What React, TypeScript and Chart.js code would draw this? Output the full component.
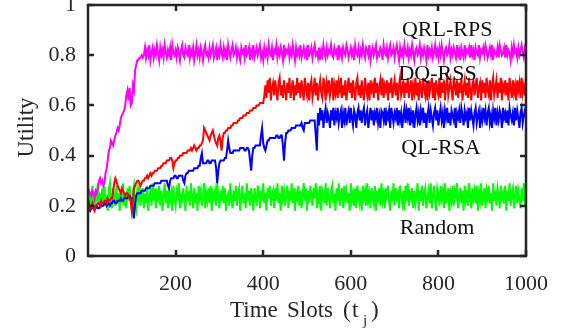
import { useEffect, useRef } from "react";
import { Chart, registerables } from "chart.js";

Chart.register(...registerables);

// time slots (category axis): every 2.5 slots from 0 to 1000
const slots: number[] = Array.from({ length: 401 }, (_, i) => i * 2.5);

const xTicks = [200, 400, 600, 800, 1000];
const yTicks = [0, 0.2, 0.4, 0.6, 0.8, 1];
const yTickLabels = ["0", "0.2", "0.4", "0.6", "0.8", "1"];

const qrlRps = [
  0.27, 0.26, 0.25, 0.24, 0.26, 0.25, 0.23, 0.26, 0.25, 0.27,
  0.30, 0.31, 0.29, 0.30, 0.28, 0.29, 0.33, 0.35, 0.38, 0.42,
  0.43, 0.46, 0.45, 0.44, 0.46, 0.48, 0.49, 0.51, 0.50, 0.52,
  0.55, 0.56, 0.57, 0.58, 0.60, 0.64, 0.66, 0.62, 0.67, 0.60,
  0.61, 0.68, 0.66, 0.74, 0.76, 0.78, 0.78, 0.79, 0.79, 0.80,
  0.79, 0.80,
  0.83, 0.79, 0.82, 0.80, 0.84, 0.78, 0.81, 0.83, 0.79, 0.82,
  0.80, 0.84, 0.81, 0.78, 0.83, 0.80, 0.82, 0.79, 0.84, 0.81,
  0.79, 0.82, 0.80, 0.83, 0.78, 0.84, 0.81, 0.80, 0.82, 0.79,
  0.83, 0.81, 0.78, 0.82, 0.84, 0.80, 0.79, 0.83, 0.81, 0.80,
  0.84, 0.79, 0.82, 0.80, 0.83, 0.78, 0.81, 0.84, 0.80, 0.82,
  0.79, 0.83, 0.81, 0.78, 0.82, 0.84, 0.80, 0.81, 0.79, 0.83,
  0.80, 0.82, 0.84, 0.79, 0.81, 0.83, 0.78, 0.82, 0.80, 0.84,
  0.81, 0.79, 0.83, 0.80, 0.82, 0.78, 0.84, 0.81, 0.79, 0.82,
  0.84, 0.80, 0.81, 0.83, 0.79, 0.82, 0.80, 0.78, 0.83, 0.81,
  0.82, 0.79, 0.84, 0.80, 0.81, 0.83, 0.78, 0.82, 0.80, 0.84,
  0.79, 0.81, 0.83, 0.80, 0.82, 0.84, 0.79, 0.81, 0.78, 0.83,
  0.80, 0.82, 0.79, 0.84, 0.81, 0.80, 0.83, 0.78, 0.82, 0.81,
  0.84, 0.79, 0.82, 0.80, 0.83, 0.81, 0.78, 0.84, 0.80, 0.82,
  0.81, 0.83, 0.79, 0.82, 0.80, 0.84, 0.81, 0.78, 0.83, 0.80,
  0.82, 0.80, 0.84, 0.79, 0.81, 0.83, 0.80, 0.82, 0.78, 0.84,
  0.80, 0.81, 0.83, 0.79, 0.82, 0.84, 0.80, 0.81, 0.79, 0.83,
  0.78, 0.82, 0.80, 0.84, 0.81, 0.79, 0.83, 0.80, 0.82, 0.81,
  0.84, 0.80, 0.79, 0.83, 0.81, 0.82, 0.78, 0.84, 0.80, 0.82,
  0.79, 0.83, 0.81, 0.80, 0.84, 0.82, 0.79, 0.81, 0.83, 0.80,
  0.82, 0.78, 0.84, 0.81, 0.80, 0.83, 0.79, 0.82, 0.80, 0.84,
  0.81, 0.79, 0.83, 0.82, 0.80, 0.84, 0.78, 0.81, 0.83, 0.80,
  0.82, 0.84, 0.79, 0.81, 0.80, 0.83, 0.82, 0.78, 0.84, 0.81,
  0.80, 0.83, 0.79, 0.82, 0.84, 0.80, 0.81, 0.83, 0.79, 0.82,
  0.84, 0.81, 0.78, 0.83, 0.80, 0.82, 0.79, 0.84, 0.81, 0.80,
  0.83, 0.79, 0.82, 0.80, 0.84, 0.81, 0.78, 0.82, 0.83, 0.80,
  0.81, 0.84, 0.79, 0.82, 0.80, 0.83, 0.81, 0.78, 0.84, 0.80,
  0.82, 0.80, 0.83, 0.79, 0.81, 0.84, 0.80, 0.82, 0.79, 0.83,
  0.80, 0.84, 0.81, 0.78, 0.82, 0.83, 0.80, 0.81, 0.84, 0.79,
  0.82, 0.80, 0.83, 0.81, 0.79, 0.84, 0.80, 0.82, 0.78, 0.83,
  0.81, 0.79, 0.84, 0.80, 0.82, 0.81, 0.83, 0.79, 0.84, 0.80,
  0.82, 0.78, 0.83, 0.81, 0.80, 0.84, 0.79, 0.82, 0.81, 0.83,
  0.80, 0.84, 0.82, 0.79, 0.81, 0.83, 0.80, 0.84, 0.78, 0.82,
  0.81, 0.80, 0.83, 0.79, 0.84, 0.82, 0.80, 0.81, 0.83, 0.79,
  0.84, 0.80, 0.82, 0.81, 0.78, 0.83, 0.80, 0.84, 0.81, 0.82,
  0.79, 0.83, 0.80, 0.82, 0.84, 0.81, 0.79, 0.83, 0.82,
];

const dqRss = [
  0.20, 0.21, 0.19, 0.20, 0.21, 0.19, 0.18, 0.20, 0.20, 0.21,
  0.21, 0.20, 0.22, 0.21, 0.21, 0.22, 0.22, 0.21, 0.23, 0.22,
  0.22, 0.23, 0.23, 0.26, 0.29, 0.31, 0.30, 0.28, 0.27, 0.26,
  0.25, 0.27, 0.26, 0.25, 0.24, 0.25, 0.25, 0.24, 0.23, 0.22,
  0.18, 0.22, 0.27, 0.28, 0.29, 0.30, 0.30, 0.29, 0.28, 0.29,
  0.30, 0.30, 0.31, 0.31, 0.32, 0.31, 0.32, 0.33, 0.32, 0.33,
  0.33, 0.34, 0.34, 0.34, 0.35, 0.35, 0.35, 0.36, 0.36, 0.37,
  0.37, 0.37, 0.38, 0.38, 0.38, 0.39, 0.39, 0.38, 0.35, 0.37,
  0.38, 0.38, 0.39, 0.39, 0.40, 0.40, 0.40, 0.41, 0.41, 0.41,
  0.41, 0.42, 0.42, 0.42, 0.43, 0.42, 0.43, 0.44, 0.43, 0.42,
  0.43, 0.43, 0.44, 0.44, 0.45, 0.46, 0.51, 0.50, 0.49, 0.48,
  0.47, 0.46, 0.48, 0.49, 0.50, 0.48, 0.46, 0.45, 0.44, 0.47,
  0.48, 0.46, 0.42, 0.47, 0.49, 0.49, 0.50, 0.50, 0.51, 0.51,
  0.51, 0.52, 0.52, 0.53, 0.53, 0.53, 0.53, 0.54, 0.54, 0.55,
  0.55, 0.55, 0.56, 0.56, 0.56, 0.57, 0.57, 0.57, 0.58, 0.58,
  0.58, 0.59, 0.59, 0.59, 0.60, 0.60, 0.60, 0.61, 0.61, 0.61,
  0.61, 0.64,
  0.68, 0.63, 0.70, 0.65, 0.71, 0.62, 0.67, 0.69, 0.64, 0.70,
  0.66, 0.62, 0.69, 0.71, 0.64, 0.68, 0.63, 0.70, 0.66, 0.62,
  0.69, 0.65, 0.71, 0.63, 0.67, 0.70, 0.62, 0.68, 0.64, 0.71,
  0.65, 0.69, 0.63, 0.70, 0.66, 0.62, 0.71, 0.67, 0.64, 0.69,
  0.62, 0.68, 0.70, 0.63, 0.66, 0.71, 0.64, 0.69, 0.62, 0.67,
  0.70, 0.65, 0.63, 0.71, 0.68, 0.62, 0.69, 0.66, 0.70, 0.64,
  0.67, 0.71, 0.62, 0.68, 0.65, 0.70, 0.63, 0.69, 0.66, 0.71,
  0.63, 0.68, 0.64, 0.70, 0.62, 0.67, 0.71, 0.65, 0.69, 0.63,
  0.70, 0.66, 0.62, 0.69, 0.71, 0.64, 0.68, 0.63, 0.70, 0.65,
  0.62, 0.71, 0.67, 0.64, 0.69, 0.62, 0.70, 0.66, 0.68, 0.63,
  0.71, 0.65, 0.69, 0.62, 0.67, 0.70, 0.64, 0.71, 0.63, 0.68,
  0.66, 0.70, 0.62, 0.69, 0.65, 0.71, 0.63, 0.67, 0.70, 0.64,
  0.69, 0.62, 0.68, 0.71, 0.64, 0.66, 0.70, 0.63, 0.69, 0.65,
  0.71, 0.63, 0.67, 0.70, 0.62, 0.68, 0.65, 0.71, 0.64, 0.69,
  0.62, 0.70, 0.66, 0.63, 0.71, 0.67, 0.64, 0.69, 0.62, 0.70,
  0.65, 0.68, 0.71, 0.63, 0.69, 0.62, 0.70, 0.66, 0.64, 0.71,
  0.63, 0.69, 0.65, 0.70, 0.62, 0.68, 0.71, 0.64, 0.67, 0.70,
  0.66, 0.62, 0.71, 0.68, 0.64, 0.70, 0.63, 0.69, 0.65, 0.71,
  0.62, 0.67, 0.70, 0.64, 0.69, 0.63, 0.71, 0.66, 0.62, 0.68,
  0.70, 0.64, 0.68, 0.71, 0.63, 0.67, 0.69, 0.62, 0.70, 0.65,
  0.69, 0.63, 0.71, 0.66, 0.64, 0.70, 0.62, 0.68, 0.71, 0.64,
  0.67, 0.70, 0.63, 0.69, 0.65, 0.71, 0.62, 0.68, 0.66, 0.70,
  0.64, 0.69, 0.62, 0.71, 0.67, 0.63, 0.70, 0.65, 0.68, 0.62,
  0.70, 0.66, 0.69, 0.63, 0.71, 0.65, 0.68, 0.64, 0.69,
];

const qlRsa = [
  0.19, 0.19, 0.18, 0.19, 0.19, 0.20, 0.19, 0.19, 0.20, 0.19,
  0.19, 0.20, 0.20, 0.20, 0.20, 0.21, 0.21, 0.20, 0.21, 0.21,
  0.20, 0.21, 0.21, 0.22, 0.22, 0.21, 0.21, 0.22, 0.22, 0.22,
  0.23, 0.22, 0.22, 0.23, 0.23, 0.23, 0.23, 0.24, 0.24, 0.23,
  0.23, 0.19, 0.15, 0.21, 0.24, 0.25, 0.25, 0.25, 0.25, 0.26,
  0.26, 0.26, 0.26, 0.27, 0.27, 0.27, 0.27, 0.28, 0.28, 0.28,
  0.28, 0.29, 0.29, 0.29, 0.29, 0.29, 0.29, 0.30, 0.30, 0.30,
  0.30, 0.30, 0.30, 0.28, 0.27, 0.30, 0.31, 0.31, 0.31, 0.32,
  0.32, 0.31, 0.31, 0.32, 0.32, 0.32, 0.32, 0.30, 0.29, 0.32,
  0.33, 0.33, 0.34, 0.34, 0.34, 0.34, 0.34, 0.35, 0.35, 0.35,
  0.35, 0.36, 0.36, 0.39, 0.41, 0.37, 0.37, 0.37, 0.37, 0.38,
  0.38, 0.37, 0.37, 0.38, 0.38, 0.38, 0.38, 0.35, 0.29, 0.34,
  0.37, 0.38, 0.38, 0.38, 0.38, 0.39, 0.39, 0.42, 0.46, 0.43,
  0.41, 0.41, 0.41, 0.42, 0.42, 0.42, 0.42, 0.42, 0.42, 0.43,
  0.43, 0.43, 0.43, 0.42, 0.42, 0.43, 0.43, 0.42, 0.38, 0.34,
  0.40, 0.43, 0.43, 0.44, 0.44, 0.44, 0.44, 0.44, 0.48, 0.51,
  0.45, 0.43, 0.42, 0.44, 0.46, 0.46, 0.47, 0.47, 0.47, 0.47,
  0.47, 0.47, 0.48, 0.48, 0.47, 0.47, 0.48, 0.48, 0.44, 0.38,
  0.45, 0.49, 0.49, 0.50, 0.50, 0.50, 0.51, 0.51, 0.51, 0.51,
  0.52, 0.52, 0.52, 0.52, 0.52, 0.53, 0.51, 0.50, 0.53, 0.53,
  0.53, 0.53, 0.53, 0.54, 0.54, 0.54, 0.54, 0.54, 0.48, 0.42,
  0.57, 0.52, 0.59, 0.54, 0.58, 0.51, 0.56, 0.59, 0.53, 0.57,
  0.55, 0.51, 0.58, 0.54, 0.59, 0.52, 0.57, 0.55, 0.59, 0.53,
  0.56, 0.58, 0.51, 0.57, 0.54, 0.59, 0.52, 0.56, 0.58, 0.53,
  0.59, 0.55, 0.52, 0.58, 0.56, 0.51, 0.57, 0.59, 0.54, 0.58,
  0.53, 0.57, 0.59, 0.52, 0.56, 0.58, 0.51, 0.55, 0.59, 0.54,
  0.58, 0.52, 0.57, 0.55, 0.59, 0.53, 0.56, 0.51, 0.58, 0.57,
  0.54, 0.59, 0.52, 0.57, 0.55, 0.58, 0.51, 0.59, 0.56, 0.53,
  0.57, 0.55, 0.59, 0.52, 0.58, 0.54, 0.57, 0.51, 0.56, 0.59,
  0.53, 0.58, 0.55, 0.59, 0.52, 0.57, 0.54, 0.58, 0.51, 0.56,
  0.59, 0.54, 0.57, 0.52, 0.58, 0.55, 0.59, 0.53, 0.57, 0.51,
  0.56, 0.59, 0.53, 0.58, 0.55, 0.52, 0.57, 0.59, 0.54, 0.58,
  0.52, 0.56, 0.59, 0.54, 0.57, 0.51, 0.58, 0.55, 0.59, 0.53,
  0.57, 0.52, 0.58, 0.56, 0.54, 0.59, 0.51, 0.57, 0.55, 0.58,
  0.53, 0.59, 0.56, 0.52, 0.58, 0.55, 0.57, 0.51, 0.59, 0.54,
  0.58, 0.55, 0.52, 0.57, 0.59, 0.53, 0.56, 0.58, 0.51, 0.57,
  0.54, 0.59, 0.55, 0.58, 0.52, 0.57, 0.59, 0.53, 0.56, 0.51,
  0.58, 0.55, 0.59, 0.52, 0.57, 0.54, 0.58, 0.56, 0.51, 0.59,
  0.55, 0.57, 0.53, 0.58, 0.52, 0.59, 0.56, 0.54, 0.57, 0.52,
  0.59, 0.54, 0.58, 0.55, 0.51, 0.57, 0.59, 0.53, 0.56, 0.58,
  0.55,
];

const randomSel = [
  0.27, 0.20, 0.25, 0.19, 0.28, 0.22, 0.18, 0.26, 0.23, 0.29,
  0.21, 0.25, 0.19, 0.27, 0.22, 0.28, 0.20, 0.24, 0.18, 0.26,
  0.29, 0.22, 0.19, 0.27, 0.24, 0.20, 0.28, 0.21, 0.25, 0.18,
  0.26, 0.23, 0.29, 0.20, 0.24, 0.19, 0.27, 0.22, 0.28, 0.21,
  0.18, 0.25, 0.28, 0.22, 0.19, 0.26, 0.23, 0.29, 0.20, 0.24,
  0.27, 0.19, 0.25, 0.21, 0.28, 0.18, 0.24, 0.26, 0.20, 0.29,
  0.22, 0.27, 0.19, 0.25, 0.23, 0.28, 0.20, 0.26, 0.18, 0.24,
  0.29, 0.21, 0.26, 0.19, 0.27, 0.22, 0.25, 0.18, 0.28, 0.23,
  0.20, 0.26, 0.24, 0.29, 0.19, 0.25, 0.21, 0.27, 0.23, 0.18,
  0.28, 0.22, 0.26, 0.20, 0.29, 0.24, 0.19, 0.27, 0.21, 0.25,
  0.18, 0.28, 0.23, 0.26, 0.20, 0.24, 0.29, 0.19, 0.25, 0.22,
  0.27, 0.21, 0.28, 0.18, 0.25, 0.23, 0.26, 0.20, 0.29, 0.24,
  0.19, 0.26, 0.22, 0.28, 0.21, 0.27, 0.18, 0.24, 0.25, 0.20,
  0.29, 0.23, 0.19, 0.26, 0.22, 0.28, 0.20, 0.25, 0.27, 0.18,
  0.24, 0.28, 0.21, 0.25, 0.19, 0.29, 0.22, 0.26, 0.20, 0.27,
  0.23, 0.18, 0.27, 0.24, 0.20, 0.28, 0.25, 0.19, 0.26, 0.22,
  0.29, 0.21, 0.25, 0.18, 0.27, 0.23, 0.28, 0.20, 0.24, 0.26,
  0.19, 0.27, 0.22, 0.29, 0.21, 0.25, 0.18, 0.28, 0.23, 0.26,
  0.20, 0.24, 0.28, 0.19, 0.26, 0.22, 0.29, 0.21, 0.27, 0.18,
  0.25, 0.23, 0.28, 0.20, 0.26, 0.19, 0.24, 0.29, 0.22, 0.27,
  0.18, 0.26, 0.21, 0.28, 0.24, 0.20, 0.27, 0.23, 0.29, 0.19,
  0.25, 0.22, 0.28, 0.18, 0.26, 0.24, 0.21, 0.29, 0.20, 0.27,
  0.23, 0.19, 0.26, 0.28, 0.21, 0.25, 0.18, 0.27, 0.22, 0.29,
  0.20, 0.24, 0.27, 0.19, 0.28, 0.23, 0.26, 0.21, 0.25, 0.18,
  0.29, 0.22, 0.25, 0.20, 0.27, 0.19, 0.28, 0.24, 0.21, 0.26,
  0.18, 0.28, 0.23, 0.26, 0.20, 0.29, 0.22, 0.25, 0.19, 0.27,
  0.24, 0.21, 0.28, 0.18, 0.26, 0.23, 0.27, 0.20, 0.29, 0.22,
  0.25, 0.19, 0.27, 0.24, 0.28, 0.21, 0.18, 0.26, 0.22, 0.29,
  0.20, 0.27, 0.23, 0.25, 0.19, 0.28, 0.24, 0.21, 0.26, 0.18,
  0.28, 0.22, 0.29, 0.20, 0.25, 0.23, 0.27, 0.19, 0.26, 0.21,
  0.24, 0.29, 0.18, 0.26, 0.22, 0.28, 0.20, 0.25, 0.27, 0.19,
  0.23, 0.26, 0.21, 0.29, 0.19, 0.24, 0.28, 0.22, 0.18, 0.27,
  0.25, 0.20, 0.28, 0.23, 0.26, 0.19, 0.29, 0.21, 0.24, 0.27,
  0.18, 0.25, 0.22, 0.28, 0.20, 0.26, 0.24, 0.29, 0.19, 0.23,
  0.27, 0.21, 0.26, 0.18, 0.28, 0.22, 0.25, 0.20, 0.29, 0.24,
  0.19, 0.27, 0.23, 0.26, 0.21, 0.28, 0.18, 0.25, 0.22, 0.29,
  0.20, 0.24, 0.27, 0.19, 0.26, 0.23, 0.28, 0.21, 0.25, 0.18,
  0.29, 0.22, 0.26, 0.20, 0.27, 0.24, 0.19, 0.28, 0.23, 0.25,
  0.21, 0.28, 0.18, 0.26, 0.22, 0.29, 0.20, 0.25, 0.27, 0.19,
  0.24, 0.28, 0.21, 0.26, 0.23, 0.19, 0.27, 0.22, 0.29, 0.20,
  0.26,
];

const seriesNames = ["QRL-RPS", "DQ-RSS", "QL-RSA", "Random"];
const seriesColors = ["#ff00ff", "#ff0000", "#0000ff", "#00ff00"];
const seriesValues = [qrlRps, dqRss, qlRsa, randomSel];

// in-plot text labels: [text, slot (centre), utility (baseline)]
const inlineLabels: [string, number, number][] = [
  ["QRL-RPS", 820, 0.876],
  ["DQ-RSS", 798, 0.701],
  ["QL-RSA", 806, 0.406],
  ["Random", 797, 0.088],
];

const FONT = '"Liberation Serif", "Times New Roman", serif';
const AXIS_COLOR = "#262626";

const boxPlugin = {
  id: "boxPlugin",
  afterDraw(chart: any) {
    const { ctx, chartArea: a, scales } = chart;
    const xs = scales.x;
    const ys = scales.y;
    ctx.save();
    ctx.strokeStyle = AXIS_COLOR;
    ctx.lineWidth = 2.5;
    ctx.strokeRect(a.left, a.top, a.right - a.left, a.bottom - a.top);
    ctx.beginPath();
    const tl = 6;
    for (const v of xTicks) {
      const px = Math.round(xs.getPixelForValue(v));
      ctx.moveTo(px, a.bottom);
      ctx.lineTo(px, a.bottom - tl);
      ctx.moveTo(px, a.top);
      ctx.lineTo(px, a.top + tl);
    }
    for (const v of yTicks) {
      const py = Math.round(ys.getPixelForValue(v));
      ctx.moveTo(a.left, py);
      ctx.lineTo(a.left + tl, py);
      ctx.moveTo(a.right, py);
      ctx.lineTo(a.right - tl, py);
    }
    ctx.stroke();

    // inline labels
    ctx.fillStyle = "#111";
    ctx.font = `22px ${FONT}`;
    ctx.textAlign = "center";
    ctx.textBaseline = "alphabetic";
    for (const [t, sx, sy] of inlineLabels) {
      ctx.fillText(t, xs.getPixelForValue(sx), ys.getPixelForValue(sy));
    }

    // x title with subscript
    ctx.fillStyle = AXIS_COLOR;
    const cx = (a.left + a.right) / 2;
    const base = 316.5;
    ctx.textAlign = "left";
    ctx.font = `23px ${FONT}`;
    ctx.fillText("Time", cx - 77, base);
    ctx.fillText("Slots", cx - 20, base);
    ctx.fillText("(", cx + 36, base);
    ctx.fillText("t", cx + 45, base);
    ctx.fillText(")", cx + 64, base);
    ctx.font = `15px ${FONT}`;
    ctx.fillText("j", cx + 56, base + 8.5);

    // y title
    ctx.save();
    ctx.translate(33, (a.top + a.bottom) / 2 - 3);
    ctx.rotate(-Math.PI / 2);
    ctx.textAlign = "center";
    ctx.font = `23px ${FONT}`;
    ctx.fillText("Utility", 0, 0);
    ctx.restore();

    ctx.restore();
  },
};

export default function App() {
  const ref = useRef<HTMLCanvasElement>(null);
  useEffect(() => {
    if (!ref.current) return;
    const chart = new Chart(ref.current, {
      type: "line",
      data: {
        datasets: seriesNames.map((name, k) => ({
          label: name,
          data: seriesValues[k].map((v, i) => ({ x: slots[i], y: v })),
          borderColor: seriesColors[k],
          backgroundColor: seriesColors[k],
          borderWidth: 2,
          pointRadius: 0,
          tension: 0,
          fill: false,
        })),
      },
      options: {
        responsive: false,
        animation: false,
        events: [],
        layout: { padding: { left: 0, right: 35, top: 5, bottom: 0 } },
        plugins: {
          legend: { display: false },
          tooltip: { enabled: false },
          title: { display: false },
        },
        scales: {
          x: {
            type: "linear",
            min: 0,
            max: 1000,
            grid: { display: false, drawTicks: false },
            border: { display: false },
            afterBuildTicks: (axis: any) => {
              axis.ticks = xTicks.map((v) => ({ value: v }));
            },
            afterFit: (axis: any) => {
              axis.height = 74;
              axis.paddingLeft = 0;
              axis.paddingRight = 0;
            },
            ticks: {
              padding: 15,
              color: AXIS_COLOR,
              font: { family: FONT, size: 22 },
              maxRotation: 0,
              autoSkip: false,
              callback: (v: any) => String(v),
            },
          },
          y: {
            type: "linear",
            min: 0,
            max: 1,
            grid: { display: false, drawTicks: false },
            border: { display: false },
            afterBuildTicks: (axis: any) => {
              axis.ticks = yTicks.map((v) => ({ value: v }));
            },
            afterFit: (axis: any) => {
              axis.width = 88;
              axis.paddingTop = 0;
              axis.paddingBottom = 0;
            },
            ticks: {
              padding: 12,
              color: AXIS_COLOR,
              font: { family: FONT, size: 22 },
              autoSkip: false,
              callback: (v: any) => {
                const idx = yTicks.findIndex((t) => Math.abs(t - v) < 1e-9);
                return idx >= 0 ? yTickLabels[idx] : "";
              },
            },
          },
        },
      },
      plugins: [boxPlugin],
    });
    return () => chart.destroy();
  }, []);
  return (
    <div style={{ position: "absolute", left: 0, top: 0, width: 561, height: 330, background: "#fff" }}>
      <canvas ref={ref} width={561} height={330} style={{ display: "block" }} />
    </div>
  );
}
